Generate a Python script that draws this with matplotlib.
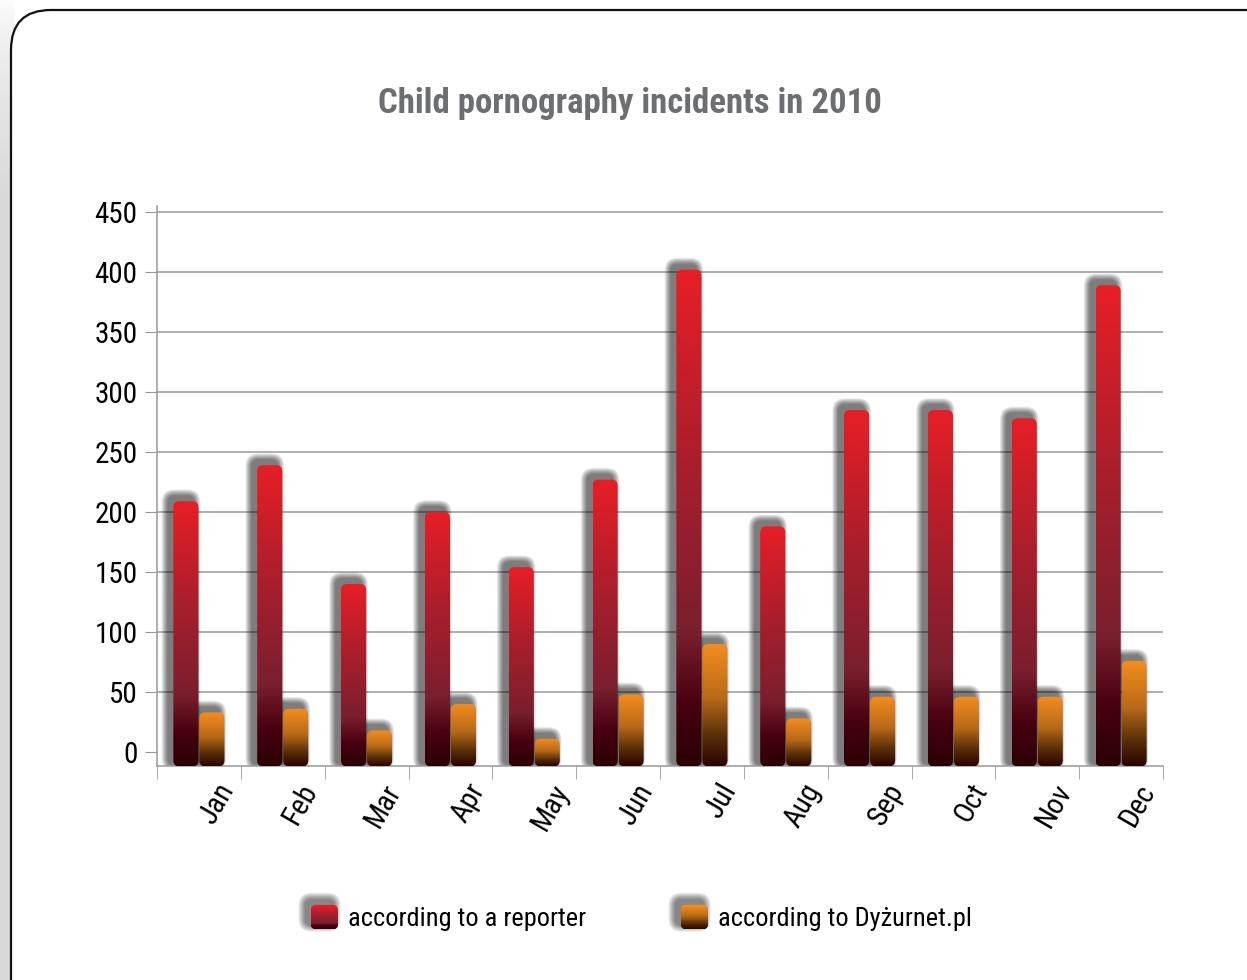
import numpy as np
import matplotlib
matplotlib.use("Agg")
import matplotlib.pyplot as plt
from matplotlib.patches import FancyBboxPatch, Rectangle
from matplotlib.colors import LinearSegmentedColormap
from matplotlib.legend_handler import HandlerBase
from matplotlib.transforms import ScaledTranslation

plt.rcParams['font.family'] = ['Roboto Condensed', 'Liberation Sans Narrow', 'DejaVu Sans']
plt.rcParams['font.stretch'] = 'condensed'

months = ['Jan', 'Feb', 'Mar', 'Apr', 'May', 'Jun', 'Jul', 'Aug', 'Sep', 'Oct', 'Nov', 'Dec']
reporter = [209, 239, 140, 200, 154, 227, 402, 188, 285, 285, 278, 389]
dyzurnet = [33, 36, 18, 40, 11, 48, 90, 28, 46, 46, 46, 76]
series_labels = ['according to a reporter', 'according to Dyżurnet.pl']
yticks = [0, 50, 100, 150, 200, 250, 300, 350, 400, 450]

red_cmap = LinearSegmentedColormap.from_list(
    'red', [(0, '#2a0004'), (0.12, '#47000e'), (0.27, '#7a1f2e'), (0.6, '#a81e2c'), (1, '#e81e26')])
orange_cmap = LinearSegmentedColormap.from_list(
    'orange', [(0, '#2a0300'), (0.25, '#5a3008'), (0.55, '#b86a18'), (1, '#f58d1e')])

W, H = 1247, 980
fig = plt.figure(figsize=(W / 100, H / 100), dpi=100, facecolor='white')

# background frame
bg = fig.add_axes([0, 0, 1, 1], zorder=0)
shade = np.linspace(0, 1, 200).reshape(-1, 1) ** 0.6
bg.imshow(shade, extent=[0, 14, 200, 0], origin='upper', aspect='auto', zorder=1,
          cmap=LinearSegmentedColormap.from_list('g', ['white', '#d9d9d9']))
bg.add_patch(Rectangle((0, 199), 14, H, fc='#d9d9d9', ec='none', zorder=1))
bg.add_patch(FancyBboxPatch((11, 10), 1400, 1100, boxstyle="round,pad=0,rounding_size=40",
                            fc='white', ec='#111111', lw=1.6, zorder=2))
bg.set_xlim(0, W); bg.set_ylim(H, 0); bg.axis('off')

# main axes
ax_l, ax_r, ax_t, ax_b = 157, 1163, 206, 766.4
ax = fig.add_axes([ax_l / W, 1 - ax_b / H, (ax_r - ax_l) / W, (ax_b - ax_t) / H], zorder=1)
ax.set_facecolor('none')
base = -12
ymax = 455
x = np.arange(len(months))
xpp = 12 / (ax_r - ax_l)
ypp = (ymax - base) / (ax_b - ax_t)
asp = ypp / xpp

bw = 0.3
red_bars = ax.bar(x - 0.155, np.array(reporter) - base, bw, bottom=base, color='none', edgecolor='none')
org_bars = ax.bar(x + 0.155, np.array(dyzurnet) - base, bw, bottom=base, color='none', edgecolor='none')


def draw_grad(rect, cmap):
    x0, y0 = rect.get_x(), rect.get_y()
    w, h = rect.get_width(), rect.get_height()
    r = 6 * xpp
    for k in range(9):
        pad = (k + 1) * 0.75 * xpp
        ax.add_patch(FancyBboxPatch((x0 - 5 * xpp, y0 + 2 * ypp), w, h + 3 * ypp,
                                    boxstyle=f"round,pad={pad},rounding_size={r + pad}",
                                    mutation_aspect=asp, fc='black', ec='none', alpha=0.075, zorder=2))
    box = FancyBboxPatch((x0, y0), w, h, boxstyle=f"round,pad=0,rounding_size={r}",
                         mutation_aspect=asp, fc='none', ec='none', zorder=3)
    ax.add_patch(box)
    grad = np.linspace(0, 1, 256).reshape(-1, 1)
    im = ax.imshow(grad, extent=[x0, x0 + w, y0, y0 + h], origin='lower', aspect='auto',
                   cmap=cmap, zorder=3)
    im.set_clip_path(box)


for rect in red_bars:
    draw_grad(rect, red_cmap)
for rect in org_bars:
    draw_grad(rect, orange_cmap)

ax.set_xlim(-0.5, 11.5)
ax.set_ylim(base, ymax)
ax.set_aspect('auto')

ax.set_yticks(yticks)
ax.set_yticklabels([str(v) for v in yticks], fontsize=21)
ax.tick_params(axis='y', length=9, color='#999999', pad=5)
ax.yaxis.grid(True, color='#999999', lw=1.1)
ax.get_ygridlines()[0].set_visible(False)
ax.set_axisbelow(True)

ax.set_xticks(x)
ax.set_xticklabels(months, fontsize=21, rotation=60, ha='right', va='center', rotation_mode='anchor')
ax.set_xticks(np.arange(-0.5, 12, 1), minor=True)
ax.tick_params(axis='x', which='major', length=0, pad=14)
ax.tick_params(axis='x', which='minor', length=9, color='#999999')
for lab in ax.get_xticklabels():
    lab.set_transform(lab.get_transform() + ScaledTranslation(0.28, 0, fig.dpi_scale_trans))

for s in ['top', 'right']:
    ax.spines[s].set_visible(False)
for s in ['left', 'bottom']:
    ax.spines[s].set_color('#999999')
    ax.spines[s].set_linewidth(1.1)

fig.text(630 / W, 1 - 104 / H, 'Child pornography incidents in 2010', ha='center', va='center',
         fontsize=25, fontweight='bold', color='#6d6e71')


class GradHandler(HandlerBase):
    def __init__(self, cmap):
        super().__init__()
        self.cmap = cmap

    def create_artists(self, legend, orig_handle, xdescent, ydescent, width, height, fontsize, trans):
        x0, y0 = -xdescent, -ydescent
        arts = []
        for k in range(8):
            p = (k + 1) * 0.65
            arts.append(FancyBboxPatch((x0 - 3.5, y0 + 3.5), width, height,
                                       boxstyle=f"round,pad={p},rounding_size={4 + p}",
                                       fc='black', ec='none', alpha=0.075, transform=trans))
        box = FancyBboxPatch((x0, y0), width, height, boxstyle="round,pad=0,rounding_size=4.5",
                             fc='none', ec='none', transform=trans)
        n = 30
        for i in range(n):
            band = Rectangle((x0, y0 + i * height / n), width, height / n + 0.3,
                             fc=self.cmap(i / (n - 1)), ec='none', transform=trans)
            band.set_clip_path(box)
            arts.append(band)
        return arts


fig.legend([red_bars, org_bars], series_labels, loc='center', bbox_to_anchor=(641 / W, 1 - 918 / H),
           ncol=2, frameon=False, fontsize=19, handlelength=1.05, handleheight=1.05,
           handletextpad=0.35, columnspacing=3.6,
           handler_map={red_bars: GradHandler(red_cmap), org_bars: GradHandler(orange_cmap)})

fig.savefig('out.png', dpi=100, facecolor='white')
